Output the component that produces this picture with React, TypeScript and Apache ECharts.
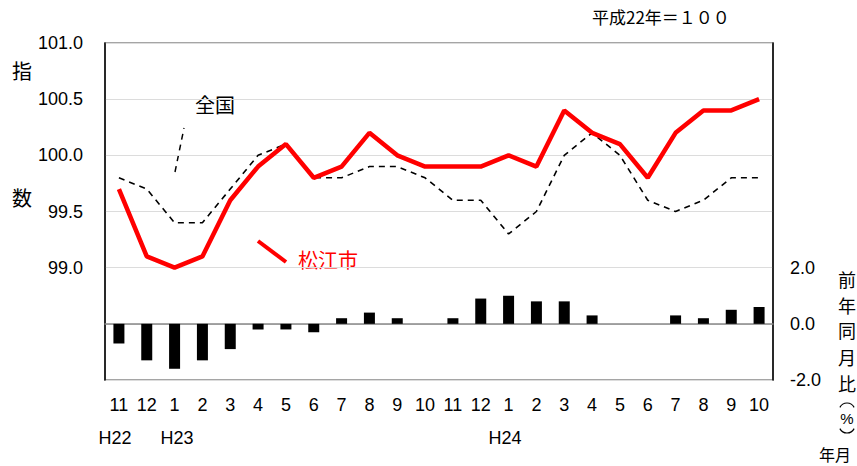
import React, { useEffect, useRef } from "react";
import * as echarts from "echarts";

const months = ["11", "12", "1", "2", "3", "4", "5", "6", "7", "8", "9", "10", "11", "12", "1", "2", "3", "4", "5", "6", "7", "8", "9", "10"];
const matsue = [99.7, 99.1, 99.0, 99.1, 99.6, 99.9, 100.1, 99.8, 99.9, 100.2, 100.0, 99.9, 99.9, 99.9, 100.0, 99.9, 100.4, 100.2, 100.1, 99.8, 100.2, 100.4, 100.4, 100.5];
const national = [99.8, 99.7, 99.4, 99.4, 99.7, 100.0, 100.1, 99.8, 99.8, 99.9, 99.9, 99.8, 99.6, 99.6, 99.3, 99.5, 100.0, 100.2, 100.0, 99.6, 99.5, 99.6, 99.8, 99.8];
const yoy = [-0.7, -1.3, -1.6, -1.3, -0.9, -0.2, -0.2, -0.3, 0.2, 0.4, 0.2, 0.0, 0.2, 0.9, 1.0, 0.8, 0.8, 0.3, 0.0, 0.0, 0.3, 0.2, 0.5, 0.6];
const eraLabels = [
  { text: "H22", x: 115 },
  { text: "H23", x: 177 },
  { text: "H24", x: 505 },
];

const FONT = "'Liberation Sans', Arial, 'Noto Sans CJK JP', sans-serif";
const JFONT = "'Noto Sans CJK JP', sans-serif";

export default function App() {
  const ref = useRef<HTMLDivElement>(null);
  useEffect(() => {
    const chart = echarts.init(ref.current!, null, { renderer: "svg" });
    const vertical = ["前", "年", "同", "月", "比"];
    const vy = [279, 305, 330, 357, 383];
    chart.setOption({
      animation: false,
      backgroundColor: "#fff",
      grid: {
        left: 105,
        right: 84,
        top: 43,
        bottom: 86,
        show: true,
        borderColor: "#888",
        borderWidth: 1.5,
        backgroundColor: "transparent",
      },
      xAxis: {
        type: "category",
        data: months,
        boundaryGap: true,
        axisLine: { show: true, lineStyle: { color: "#888", width: 1.5 } },
        axisTick: { show: false },
        axisLabel: { interval: 0, color: "#000", fontSize: 18, fontFamily: FONT, margin: 16 },
      },
      yAxis: [
        {
          type: "value",
          min: 98,
          max: 101,
          interval: 0.5,
          axisLine: { show: true, lineStyle: { color: "#000", width: 1.5 } },
          axisTick: { show: false },
          splitLine: { show: true, lineStyle: { color: "#dcdcdc", width: 1 } },
          axisLabel: {
            color: "#000",
            fontSize: 18,
            fontFamily: FONT,
            margin: 22,
            formatter: (v: number) => (v >= 99 ? v.toFixed(1) : ""),
          },
        },
        {
          type: "value",
          min: -2,
          max: 10,
          interval: 2,
          position: "right",
          axisLine: { show: true, lineStyle: { color: "#000", width: 1.5 } },
          axisTick: { show: false },
          splitLine: { show: false },
          axisLabel: {
            color: "#000",
            fontSize: 18,
            fontFamily: FONT,
            margin: 17,
            formatter: (v: number) => (v <= 2 ? v.toFixed(1) : ""),
          },
        },
      ],
      series: [
        {
          type: "bar",
          yAxisIndex: 1,
          data: yoy,
          barWidth: 11,
          itemStyle: { color: "#000" },
          z: 1,
        },
        {
          type: "line",
          data: national,
          symbol: "none",
          lineStyle: { color: "#000", width: 1.6, type: [6, 5] },
          z: 2,
        },
        {
          type: "line",
          data: matsue,
          symbol: "none",
          lineStyle: { color: "#ff0000", width: 4.5 },
          z: 3,
        },
      ],
      graphic: [
        {
          type: "text",
          left: 592,
          top: 8,
          style: { text: "平成22年＝１００", font: `17px ${JFONT}`, fill: "#000" },
        },
        { type: "text", x: 22, y: 70, style: { text: "指", font: `20px ${JFONT}`, fill: "#000", align: "center", verticalAlign: "middle" } },
        { type: "text", x: 22, y: 197, style: { text: "数", font: `20px ${JFONT}`, fill: "#000", align: "center", verticalAlign: "middle" } },
        { type: "text", x: 195, y: 104, style: { text: "全国", font: `20px ${JFONT}`, fill: "#000", align: "left", verticalAlign: "middle" } },
        { type: "line", shape: { x1: 175, y1: 172, x2: 184, y2: 128 }, style: { stroke: "#000", lineWidth: 1.5, lineDash: [6, 5] } },
        { type: "text", x: 298, y: 259, style: { text: "松江市", font: `20px ${JFONT}`, fill: "#ff0000", align: "left", verticalAlign: "middle" } },
        { type: "line", shape: { x1: 258, y1: 241, x2: 286, y2: 262 }, style: { stroke: "#ff0000", lineWidth: 4 } },
        ...vertical.map((c, i) => ({
          type: "text",
          x: 847,
          y: vy[i],
          style: { text: c, font: `18px ${JFONT}`, fill: "#000", align: "center", verticalAlign: "middle" },
        })),
        { type: "arc", shape: { cx: 847, cy: 411, r: 8, startAngle: Math.PI * 1.15, endAngle: Math.PI * 1.85 }, style: { stroke: "#000", lineWidth: 1.2, fill: "none" } },
        { type: "text", x: 847, y: 418, style: { text: "%", font: `15px ${FONT}`, fill: "#000", align: "center", verticalAlign: "middle" } },
        { type: "arc", shape: { cx: 847, cy: 425, r: 8, startAngle: Math.PI * 0.15, endAngle: Math.PI * 0.85 }, style: { stroke: "#000", lineWidth: 1.2, fill: "none" } },
        { type: "text", x: 835, y: 454, style: { text: "年月", font: `16px ${JFONT}`, fill: "#000", align: "center", verticalAlign: "middle" } },
        ...eraLabels.map((e) => ({
          type: "text",
          x: e.x,
          y: 438,
          style: { text: e.text, font: `18px ${FONT}`, fill: "#000", align: "center", verticalAlign: "middle" },
        })),
      ],
    });
    return () => chart.dispose();
  }, []);
  return <div ref={ref} style={{ position: "absolute", left: 0, top: 0, width: 857, height: 466 }} />;
}
